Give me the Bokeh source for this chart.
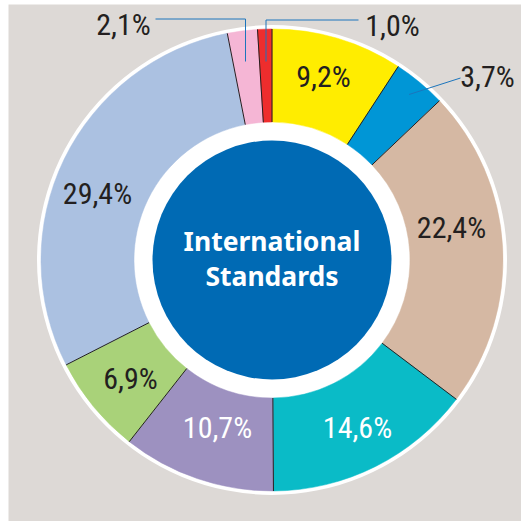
import math
from bokeh.plotting import figure
from bokeh.models import Range1d, ColumnDataSource
from bokeh.core.properties import value
from bokeh.embed import file_html
from bokeh.resources import INLINE

# ---- data ----
labels = ["9,2%", "3,7%", "22,4%", "14,6%", "10,7%", "6,9%", "29,4%", "2,1%", "1,0%"]
shares = [9.2, 3.7, 22.4, 14.6, 10.7, 6.9, 29.4, 2.1, 1.0]
colors = ["#FFED00", "#0096D6", "#D5B8A3", "#0ABBC7", "#9D91C0", "#A9D279", "#ABC1E1", "#F5B6D5", "#EE2D2D"]
label_colors = ["#231F20", "#231F20", "#231F20", "#FFFFFF", "#FFFFFF", "#231F20", "#231F20", "#231F20", "#231F20"]
center_title = ["International", "Standards"]

# ---- layout (pixel space, y up) ----
W = H = 521
CX, CY = 271.5, H - 259.5
R_OUT, R_IN, R_WHITE, R_CORE = 231, 138, 235, 119.5
# label positions (pixels from top-left)
label_pos = [(323, 76), (487, 76), (451, 227), (357, 427), (217, 427), (130, 378), (97, 193), (123, 24), (392, 25)]

p = figure(width=W, height=H, x_range=Range1d(0, W), y_range=Range1d(0, H),
           output_backend="svg", toolbar_location=None, min_border=0)
p.axis.visible = False
p.grid.visible = False
p.outline_line_color = None
p.background_fill_color = "white"
p.border_fill_color = "white"

# gray panel
p.quad(left=[8], right=[W], bottom=[0], top=[H - 4], fill_color="#DDD9D6", line_color=None)

# white outer ring
p.circle(x=[CX], y=[CY], radius=R_WHITE, fill_color="white", line_color=None)

total = sum(shares)
starts, ends = [], []
c = 0.0
for s in shares:
    starts.append(math.pi / 2 - 2 * math.pi * c / total)
    c += s
    ends.append(math.pi / 2 - 2 * math.pi * c / total)

src = ColumnDataSource(dict(start=starts, end=ends, color=colors))
p.annular_wedge(x=CX, y=CY, inner_radius=R_IN, outer_radius=R_OUT,
                start_angle="start", end_angle="end", direction="clock",
                fill_color="color", line_color="color", line_width=0.5, source=src)

# segment separators
bx0 = [CX + R_IN * math.cos(a) for a in starts]
by0 = [CY + R_IN * math.sin(a) for a in starts]
bx1 = [CX + R_OUT * math.cos(a) for a in starts]
by1 = [CY + R_OUT * math.sin(a) for a in starts]
p.segment(x0=bx0, y0=by0, x1=bx1, y1=by1, line_color="#231F20", line_width=1)

# core circle
p.circle(x=[CX], y=[CY], radius=R_CORE, fill_color="#006AB4", line_color=None)

# leader lines
lc = "#1C75BC"
p.line(x=[155, 245, 245], y=[H - 18.5, H - 18.5, H - 61], line_color=lc, line_width=1)
p.line(x=[358, 265.5, 265.5], y=[H - 19.5, H - 19.5, H - 61], line_color=lc, line_width=1)
p.line(x=[460, 408.5], y=[H - 77.5, H - 94], line_color=lc, line_width=1)

font = value("Roboto Condensed, Liberation Sans Narrow, Roboto, sans-serif")
p.text(x=[q[0] for q in label_pos], y=[H - q[1] for q in label_pos], text=labels,
       text_color=label_colors, text_font=font, text_font_size="30px",
       text_align="center", text_baseline="middle")

p.text(x=[CX, CX], y=[H - 240, H - 275], text=center_title, text_color="white",
       text_font=value("Noto Sans"), text_font_style="bold", text_font_size="26.5px",
       text_align="center", text_baseline="middle")

open("out.html", "w").write(file_html(p, INLINE))
